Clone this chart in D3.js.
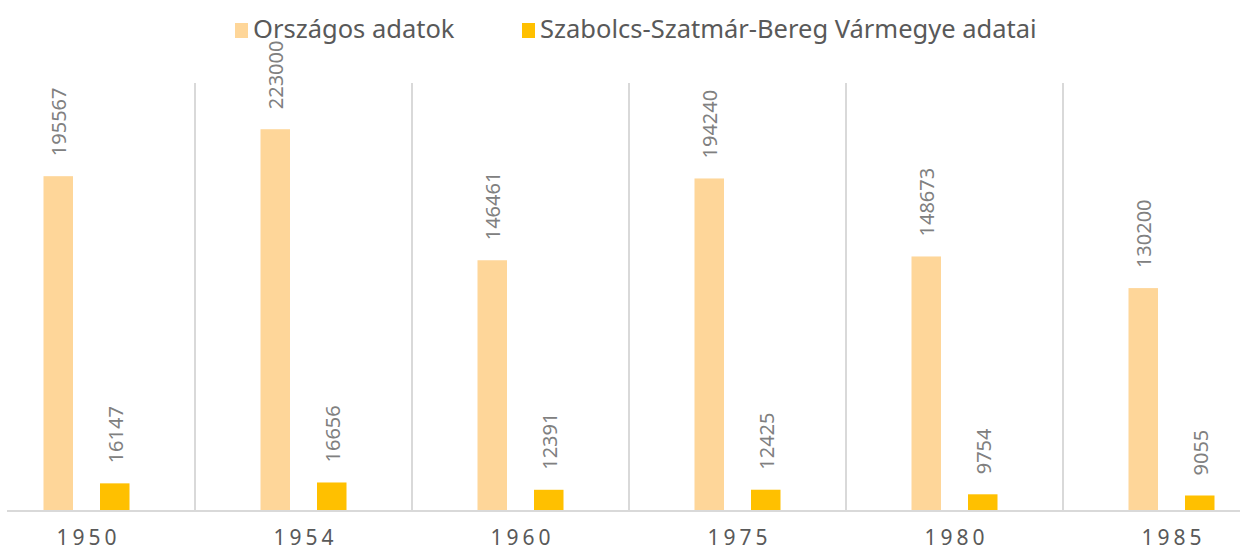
<!DOCTYPE html>
<html>
<head>
<meta charset="utf-8">
<script src="https://cdn.jsdelivr.net/npm/d3@7"></script>
<style>
  html, body { margin: 0; padding: 0; background: #fff; }
  svg { display: block; font-family: "Noto Sans", "Open Sans", sans-serif; }
</style>
</head>
<body>
<div id="chart"></div>
<script>
// Adatok
const years = ["1950", "1954", "1960", "1975", "1980", "1985"];
const seriesNames = ["Országos adatok", "Szabolcs-Szatmár-Bereg Vármegye adatai"];
const orszagos = [195567, 223000, 146461, 194240, 148673, 130200];
const szabolcs = [16147, 16656, 12391, 12425, 9754, 9055];
const colors = ["#fed699", "#ffc000"];

const W = 1240, H = 550;
const baseY = 511, topY = 83;

const svg = d3.select("#chart").append("svg")
    .attr("width", W)
    .attr("height", H);

const x = d3.scaleBand()
    .domain(years)
    .range([-22, 1280])
    .padding(0);

const step = x.bandwidth();
const inner = d3.scaleBand()
    .domain([0, 1])
    .range([step / 2 - 43, step / 2 + 43])
    .paddingInner(0.478);

const y = d3.scaleLinear()
    .domain([0, 250000])
    .range([baseY, topY]);

// Elválasztó vonalak
svg.selectAll(".sep")
    .data(years.slice(1))
    .enter()
    .append("line")
    .attr("class", "sep")
    .attr("x1", d => x(d))
    .attr("x2", d => x(d))
    .attr("y1", topY)
    .attr("y2", baseY)
    .attr("stroke", "#d9d9d9")
    .attr("stroke-width", 2);

// Oszlopok
const rows = years.map((yr, i) => ({ year: yr, values: [orszagos[i], szabolcs[i]] }));

const groups = svg.selectAll(".grp")
    .data(rows)
    .enter()
    .append("g")
    .attr("class", "grp")
    .attr("transform", d => `translate(${x(d.year)},0)`);

groups.selectAll("rect")
    .data(d => d.values.map((v, k) => ({ v, k })))
    .enter()
    .append("rect")
    .attr("x", d => inner(d.k))
    .attr("width", inner.bandwidth())
    .attr("y", d => y(d.v))
    .attr("height", d => baseY - y(d.v))
    .attr("fill", d => colors[d.k]);

// Értékcímkék (függőleges)
groups.selectAll(".val")
    .data(d => d.values.map((v, k) => ({ v, k })))
    .enter()
    .append("text")
    .attr("class", "val")
    .attr("transform", d => `translate(${inner(d.k) + inner.bandwidth() / 2 + 1},${y(d.v) - 20}) rotate(-90)`)
    .attr("dy", "0.35em")
    .attr("text-anchor", "start")
    .style("font-size", "20px")
    .style("fill", "#808080")
    .text(d => d.v);

// Tengely
svg.append("line")
    .attr("x1", 7)
    .attr("x2", W)
    .attr("y1", baseY)
    .attr("y2", baseY)
    .attr("stroke", "#d9d9d9")
    .attr("stroke-width", 2);

svg.selectAll(".yr")
    .data(years)
    .enter()
    .append("text")
    .attr("class", "yr")
    .attr("x", d => x(d) + step / 2 + 2)
    .attr("y", 545)
    .attr("text-anchor", "middle")
    .style("font-size", "21px")
    .style("letter-spacing", "4px")
    .style("fill", "#595959")
    .text(d => d);

// Jelmagyarázat
const legendX = [235, 522];
const legend = svg.selectAll(".leg")
    .data(seriesNames)
    .enter()
    .append("g")
    .attr("class", "leg")
    .attr("transform", (d, i) => `translate(${legendX[i]},0)`);

legend.append("rect")
    .attr("x", 0)
    .attr("y", 23)
    .attr("width", 13)
    .attr("height", 15)
    .attr("fill", (d, i) => colors[i]);

legend.append("text")
    .attr("x", 18)
    .attr("y", 38)
    .style("font-size", "25.5px")
    .style("fill", "#595959")
    .text(d => d);
</script>
</body>
</html>
